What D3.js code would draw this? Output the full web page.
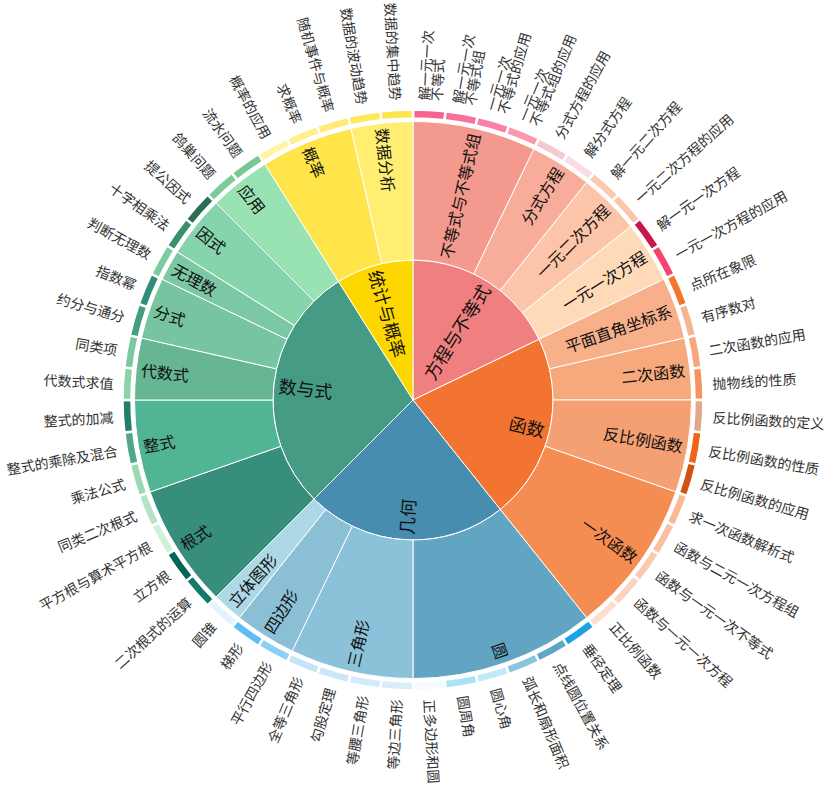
<!DOCTYPE html>
<meta charset="utf-8">
<title>知识点旭日图</title>
<script src="https://d3js.org/d3.v7.min.js"></script>
<style>
body { margin: 0; background: #fff; }
</style>
<div id="chart"></div>
<script>
const width = 830, height = 790,
      cx = 413, cy = 400;

// level 1
const subjects = ["方程与不等式", "函数", "几何", "数与式", "统计与概率"];
const subjectColors = ["#F08080", "#F37430", "#468DAF", "#469B85", "#FFD700"];

// level 2
const topics = ["不等式与不等式组", "分式方程", "一元二次方程", "一元一次方程",
  "平面直角坐标系", "二次函数", "反比例函数", "一次函数",
  "圆", "三角形", "四边形", "立体图形",
  "根式", "整式", "代数式", "分式", "无理数", "因式", "应用",
  "概率", "数据分析"];
const topicParents = ["方程与不等式", "方程与不等式", "方程与不等式", "方程与不等式",
  "函数", "函数", "函数", "函数",
  "几何", "几何", "几何", "几何",
  "数与式", "数与式", "数与式", "数与式", "数与式", "数与式", "数与式",
  "统计与概率", "统计与概率"];
const topicColors = ["#F4998E", "#F8AC9A", "#FCC4A8", "#FFDAB9",
  "#F7B08A", "#F6A97C", "#F5A072", "#F58C52",
  "#62A5C3", "#8CC2D9", "#8ABFD6", "#ADD8E6",
  "#378E7B", "#51B495", "#66B694", "#76C4A0", "#7CC8A4", "#86D4AC", "#98E2B4",
  "#FFE54A", "#FFEE72"];

// level 3
const points = ["解一元一次\n不等式", "解一元一次\n不等式组", "一元一次\n不等式的应用", "一元一次\n不等式组的应用",
  "分式方程的应用", "解分式方程", "解一元二次方程", "一元二次方程的应用", "解一元一次方程", "一元一次方程的应用",
  "点所在象限", "有序数对", "二次函数的应用", "抛物线的性质",
  "反比例函数的定义", "反比例函数的性质", "反比例函数的应用",
  "求一次函数解析式", "函数与二元一次方程组", "函数与一元一次不等式", "函数与一元一次方程", "正比例函数",
  "垂径定理", "点线圆位置关系", "弧长和扇形面积", "圆心角", "圆周角", "正多边形和圆",
  "等边三角形", "等腰三角形", "勾股定理", "全等三角形", "平行四边形", "梯形", "圆锥",
  "二次根式的运算", "立方根", "平方根与算术平方根", "同类二次根式",
  "乘法公式", "整式的乘除及混合", "整式的加减", "代数式求值", "同类项",
  "约分与通分", "指数幂", "判断无理数", "十字相乘法", "提公因式", "鸽巢问题", "流水问题",
  "概率的应用", "求概率", "随机事件与概率", "数据的波动趋势", "数据的集中趋势"];
const pointParents = ["不等式与不等式组", "不等式与不等式组", "不等式与不等式组", "不等式与不等式组",
  "分式方程", "分式方程", "一元二次方程", "一元二次方程", "一元一次方程", "一元一次方程",
  "平面直角坐标系", "平面直角坐标系", "二次函数", "二次函数",
  "反比例函数", "反比例函数", "反比例函数",
  "一次函数", "一次函数", "一次函数", "一次函数", "一次函数",
  "圆", "圆", "圆", "圆", "圆", "圆",
  "三角形", "三角形", "三角形", "三角形", "四边形", "四边形", "立体图形",
  "根式", "根式", "根式", "根式",
  "整式", "整式", "整式", "代数式", "代数式",
  "分式", "分式", "无理数", "因式", "因式", "应用", "应用",
  "概率", "概率", "概率", "数据分析", "数据分析"];
const pointColors = ["#F8628E", "#F9709A", "#FA80A5", "#FB98AE",
  "#F6C8D2", "#F8DDE4", "#FBC9AD", "#FAC5A8", "#C8174C", "#F5456E",
  "#F2762E", "#F6B592", "#F8A67A", "#F59460",
  "#E2A88A", "#F06516", "#CC5312",
  "#F8B995", "#FAC0A0", "#FBC9AD", "#FCD3BC", "#FDDFCD",
  "#1BA1E6", "#5FA6C4", "#88C4DA", "#C0EAF5", "#A8E4F2", "#F4FAFE",
  "#D8EEF9", "#D2ECF9", "#CCE8F8", "#C2E5F8", "#8CD0F4", "#60BDF2", "#E4F3FB",
  "#137A6B", "#00665A", "#D1F0DA", "#B5E3C6",
  "#9CD9B0", "#50A88C", "#237E6A", "#8AD4A8", "#7CC8A0",
  "#449C84", "#2E8C78", "#7CCCA0", "#3A9068", "#2D6E50", "#7CCC98", "#76C894",
  "#FFF5A0", "#FFF08C", "#FFEA78", "#FFE85A", "#FFE54C"];
const pointValues = [1, 1, 1, 1, 1, 1, 1, 1, 1, 1,
  1, 1, 1, 1, 1, 1, 1, 1, 1, 1, 1, 1,
  1, 1, 1, 1, 1, 1, 1, 1, 1, 1, 1, 1, 1,
  1, 1, 1, 1, 1, 1, 1, 1, 1, 1, 1, 1, 1, 1, 1, 1,
  1, 1, 1, 1, 1];

// radii per depth
const rIn = [0, 140, 281.5],
      rOut = [140, 278.5, 290.5],
      leafLabelR = 300;

const tree = {
  name: "root",
  children: subjects.map((s, i) => ({
    name: s, color: subjectColors[i],
    children: topics.map((t, j) => ({name: t, color: topicColors[j], parent: topicParents[j]}))
      .filter(t => t.parent === s)
      .map(t => ({
        name: t.name, color: t.color,
        children: points.map((p, k) => ({name: p, color: pointColors[k], value: pointValues[k], parent: pointParents[k]}))
          .filter(p => p.parent === t.name)
      }))
  }))
};

const root = d3.hierarchy(tree).sum(d => d.children ? 0 : d.value);
d3.partition().size([2 * Math.PI, 3])(root);

const svg = d3.select("#chart")
  .append("svg")
  .attr("width", width)
  .attr("height", height);

const g = svg.append("g")
  .attr("transform", `translate(${cx}, ${cy})`);

const arc = d3.arc()
  .startAngle(d => d.x0)
  .endAngle(d => d.x1)
  .innerRadius(d => rIn[d.depth - 1])
  .outerRadius(d => rOut[d.depth - 1]);

const nodes = root.descendants().filter(d => d.depth > 0);

g.selectAll("path")
  .data(nodes)
  .join("path")
  .attr("d", arc)
  .attr("fill", d => d.data.color)
  .attr("stroke", "#fff")
  .attr("stroke-width", d => d.depth === 3 ? 2.5 : 1);

// labels
const fontSizes = [18, 16, 14];
const labels = g.selectAll("text")
  .data(nodes)
  .join("text")
  .attr("transform", d => {
    const a = (d.x0 + d.x1) / 2,
          deg = a * 180 / Math.PI,
          rot = deg > 180 ? deg - 270 : deg - 90,
          r = d.depth === 3 ? leafLabelR : rOut[d.depth - 1] - 5;
    return `translate(${r * Math.sin(a)}, ${-r * Math.cos(a)}) rotate(${rot})`;
  })
  .attr("text-anchor", d => {
    const flip = (d.x0 + d.x1) / 2 > Math.PI;
    if (d.depth === 3) return flip ? "end" : "start";
    return flip ? "start" : "end";
  })
  .attr("dominant-baseline", "central")
  .style("font-family", "'Noto Sans CJK SC', 'Noto Sans', sans-serif")
  .style("font-size", d => fontSizes[d.depth - 1] + "px")
  .style("fill", d => d.depth === 3 ? "#333" : "#111");

labels.each(function(d) {
  const lines = d.data.name.split("\n");
  const lh = 12.5;
  d3.select(this).selectAll("tspan")
    .data(lines)
    .join("tspan")
    .attr("x", 0)
    .attr("y", (l, i) => (i - (lines.length - 1) / 2) * lh)
    .text(l => l);
});
</script>
